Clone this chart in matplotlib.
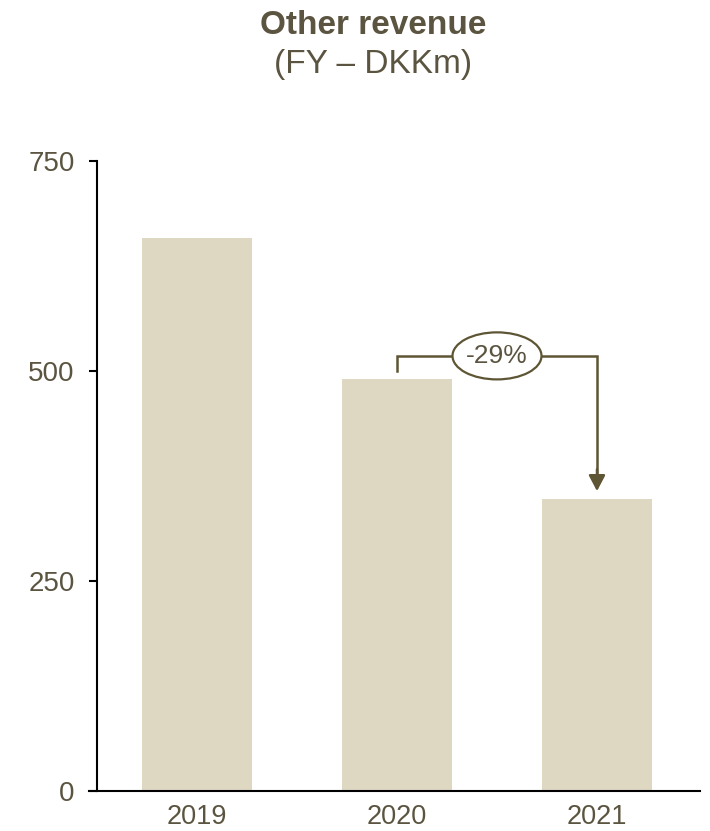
import matplotlib
matplotlib.use("Agg")
import matplotlib.pyplot as plt
from matplotlib.patches import Ellipse

plt.rcParams['font.family'] = ['Liberation Sans', 'DejaVu Sans']

years = ["2019", "2020", "2021"]
revenue = [658, 490, 348]
yticks = [0, 250, 500, 750]
change_label = "-29%"

text_col = "#5a5440"
bar_col = "#ded8c3"
arrow_col = "#5e5535"

fig = plt.figure(figsize=(7.10, 8.31), dpi=100)
W, H = 710, 831
ax = fig.add_axes([97 / W, (H - 791) / H, (700 - 97) / W, (791 - 161) / H])

x = list(range(len(years)))
ax.bar(x, revenue, width=0.55, color=bar_col, zorder=2)

ax.set_xlim(-0.5, 2.515)
ax.set_ylim(0, 750)
ax.set_yticks(yticks)
ax.set_yticklabels([str(v) for v in yticks])
ax.set_xticks(x)
ax.set_xticklabels(years)

for s in ["top", "right"]:
    ax.spines[s].set_visible(False)
ax.spines["left"].set_linewidth(1.5)
ax.spines["bottom"].set_linewidth(1.5)
ax.spines["bottom"].set_bounds(-0.54, 2.515)
ax.tick_params(axis="y", length=6, width=1.5, direction="out", labelsize=20,
               labelcolor=text_col, pad=10)
ax.tick_params(axis="x", length=0, labelsize=19.5, labelcolor=text_col, pad=9)

# bracket arrow between 2020 and 2021
y_top = 518
ax.plot([1, 1, 2, 2], [revenue[1] + 10, y_top, y_top, revenue[2] + 30],
        color=arrow_col, lw=1.8, solid_joinstyle="miter", zorder=3)
ax.annotate("", xy=(2, revenue[2] + 9), xytext=(2, revenue[2] + 35),
            arrowprops=dict(arrowstyle="-|>,head_length=0.95,head_width=0.5",
                            color=arrow_col, lw=1.8, shrinkA=0, shrinkB=0),
            zorder=4)
ell = Ellipse((1.5, y_top), width=0.445, height=56, facecolor="white",
              edgecolor=arrow_col, lw=1.6, zorder=5)
ax.add_patch(ell)
ax.text(1.5, y_top, change_label, ha="center", va="center", fontsize=19,
        color=text_col, zorder=6)

fig.text(373 / W, 1 - 26 / H, "Other revenue", ha="center", va="center",
         fontsize=24, fontweight="bold", color=text_col)
fig.text(373 / W, 1 - 64 / H, "(FY – DKKm)", ha="center", va="center",
         fontsize=24, color=text_col)

fig.savefig("out.png", dpi=100)
